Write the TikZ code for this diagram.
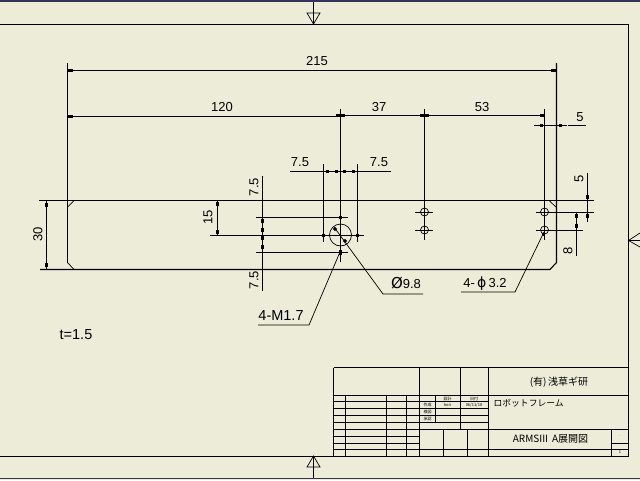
\documentclass[tikz,border=0pt]{standalone}
\usepackage{fontspec}
\setmainfont{Liberation Sans}
\newfontfamily\cjk{Noto Sans CJK JP}
\usepackage{tikz}
\definecolor{paper}{HTML}{ECECD9}
\definecolor{rim}{HTML}{34345A}
\tikzset{dim/.style={font=\fontsize{13}{13}\selectfont,inner sep=0pt},
         vdim/.style={dim,rotate=90},
         bigdim/.style={font=\fontsize{14.5}{14.5}\selectfont,inner sep=0pt},
         smalltxt/.style={font=\cjk\fontsize{4}{4}\selectfont,inner sep=0pt},
         titletxt/.style={font=\cjk\fontsize{10}{10}\selectfont,inner sep=0pt},
         tick/.style={fill=black,inner sep=0pt,minimum size=3pt},
         htick/.style={tick,minimum width=5pt,minimum height=3pt},
         vtick/.style={tick,minimum width=3pt,minimum height=4pt},
         thin line/.style={line width=0.7pt},
         every path/.style={line width=1.1pt}}
\begin{document}
\begin{tikzpicture}[x=1pt,y=-1pt]
\fill[paper] (0,0) rectangle (640,480);
\useasboundingbox (0,0) rectangle (640,480);
\draw[rim,line width=1.4pt] (0,1)--(640,1);
\draw[rim,line width=1.4pt] (0,478.5)--(640,478.5);
% frame
\draw (0,24.5)--(628.5,24.5)--(628.5,456.5)--(0,456.5);
\draw (313.5,2)--(313.5,24);
\draw[thin line] (307,13)--(320,13)--(313.5,24)--cycle;
\draw (313.5,478)--(313.5,456);
\draw[thin line] (307,467)--(320,467)--(313.5,456)--cycle;
\draw (628,240.5)--(640,240.5);
\draw[thin line] (640,233)--(628.5,240.5)--(640,247);
% plate
\draw (39,200.5)--(594,200.5);
\draw (40,269.5)--(550,269.5)--(556.5,262.5)--(556.5,63);
\draw (67.5,63)--(67.5,262.5);
\draw[thin line] (67.5,207)--(74,200.5);
\draw[thin line] (67.5,262.5)--(74,269.5);
\draw[thin line] (549,200.5)--(556.5,207.5);
% long dimensions
\draw (67.5,70.5)--(556.5,70.5);
\node[dim] (d215) at (317,61) {215};
\draw (67.5,116.5)--(340.5,116.5);
\node[dim] (d120) at (222,107) {120};
\draw (340.5,115.5)--(544.5,115.5);
\node[dim] (d37) at (379,107) {37};
\node[dim] (d53) at (482,107) {53};
\node[htick] at (70.5,70.5) {};
\node[htick] at (70.5,116.5) {};
\node[htick] at (553,70.5) {};
\foreach \x in {340.5,424.5} {\node[htick,minimum width=9pt] at (\x,115.5) {};}
\node[htick] at (542,115.5) {};
% extension lines
\draw (340.5,109)--(340.5,262);
\draw (424.5,109)--(424.5,240);
\draw (544.5,109)--(544.5,240);
% dimension 5 top right
\draw (534,125.5)--(567,125.5);
\draw[thin line] (568,125.5)--(586,125.5);
\node[dim] (d5a) at (580,117) {5};
\node[tick] at (541,125.5) {};
\node[tick] at (560,125.5) {};
% dimension 7.5 pair
\draw (323.5,164)--(323.5,242);
\draw (357.5,164)--(357.5,242);
\draw[thin line] (290,171.5)--(391,171.5);
\node[dim] (d75a) at (300,162) {7.5};
\node[dim] (d75b) at (379,162) {7.5};
\foreach \x in {327,336,344,353} {\node[tick] at (\x,171.5) {};}
% left dimensions
\draw (262.5,176)--(262.5,291);
\draw (256,217.5)--(348,217.5);
\draw (210,235.5)--(364,235.5);
\draw (256,252.5)--(348,252.5);
\node[vdim] (d75c) at (254,187) {7.5};
\node[vdim] (d75d) at (254,280) {7.5};
\foreach \y in {221,230,238,247} {\node[vtick] at (262.5,\y) {};}
\draw (217.5,200.5)--(217.5,235.5);
\node[vdim] (d15) at (208,217) {15};
\node[vtick] at (217.5,204) {};
\node[vtick] at (217.5,232) {};
\draw (46.5,200.5)--(46.5,269.5);
\node[vdim] (d30) at (38,234) {30};
\node[vtick] at (46.5,205) {};
\node[vtick] at (46.5,265) {};
% large hole
\draw[thin line] (340.5,235) circle (11);
\draw[thin line] (334,227)--(383,294)--(423,294);
\node[tick] at (340,217.5) {};
\node[tick] at (323.5,235.5) {};
\node[tick] at (357.5,235.5) {};
\node[tick,minimum height=5pt] at (340,252) {};
\node[tick,rotate=45] at (335,229) {};
\node[tick,rotate=45] at (345,241) {};
\node[dim] (dphi) at (406,283) {\fontspec{DejaVu Sans}\fontsize{15}{15}\selectfont Ø\fontspec{Liberation Sans}\fontsize{13}{13}\selectfont 9.8};
\draw[thin line] (340,252)--(309,325)--(258,325);
\node[bigdim] (dm17) at (281,316) {4-M1.7};
% small holes
\foreach \x in {424.5,544.5} \foreach \y in {212,230} {\draw[thin line] (\x,\y) circle (4);}
\draw (415,212.5)--(433,212.5);
\draw (415,230.5)--(433,230.5);
\draw (536,212.5)--(594,212.5);
\draw (536,230.5)--(583,230.5);
\draw[thin line] (544,232)--(515,292)--(461,292);
\node[tick] at (543,234) {};
\node[dim] (dphib) at (485,284) {4-\,\fontspec{DejaVu Sans}\fontsize{14}{14}\selectfont ϕ\fontspec{Liberation Sans}\fontsize{13}{13}\selectfont\,3.2};
% right dimensions
\draw (587.5,173)--(587.5,222);
\node[vdim] (d5b) at (579,179) {5};
\node[vtick] at (587.5,197) {};
\node[vtick] at (587.5,216) {};
\draw (576.5,213)--(576.5,256);
\node[vdim] (d8) at (568,251) {8};
\node[vtick] at (576.5,216) {};
\node[vtick] at (576.5,226) {};
\node[bigdim] (thick) at (76,335) {t=1.5};
% title block
\draw (333.5,367.5)--(628.5,367.5);
\draw (333.5,367.5)--(333.5,456.5);
\draw (333.5,395.5)--(628.5,395.5);
\draw (419.5,367.5)--(419.5,456.5);
\draw (460.5,367.5)--(460.5,429.5);
\draw (488.5,367.5)--(488.5,456.5);
\foreach \y in {401.5,408.5,415.5,422.5} {\draw (333.5,\y)--(488.5,\y);}
\draw (333.5,429.5)--(628.5,429.5);
\foreach \y in {436.5,443.5} {\draw (333.5,\y)--(419.5,\y);}
\draw (333.5,449.5)--(628.5,449.5);
\draw (611.5,443.5)--(628.5,443.5);
\foreach \x in {345.5,386.5,406.5} {\draw (\x,395.5)--(\x,456.5);}
\draw (435.5,395.5)--(435.5,422.5);
\foreach \x in {443.5,467.5} {\draw (\x,429.5)--(\x,456.5);}
\draw (611.5,429.5)--(611.5,456.5);
\node[titletxt] (shop) at (559,382) {(有)\,浅草ギ研};
\node[titletxt,font=\cjk\fontsize{8.8}{9}\selectfont,anchor=west] (part) at (493,403) {ロボットフレーム};
\node[titletxt] (sheet) at (550.5,439) {ARMSIII\, A展開図};
\node[smalltxt] (c1) at (447.5,398.5) {設計};
\node[smalltxt] (c2) at (474,398.5) {日付};
\node[smalltxt] (c3) at (427.5,405) {作成};
\node[smalltxt] (c4) at (447.5,405) {hori};
\node[smalltxt] (c5) at (474,405) {06/11/18};
\node[smalltxt] (c6) at (427.5,412) {検図};
\node[smalltxt] (c7) at (427.5,419) {承認};
\node[smalltxt] (c8) at (620,436) {.};
\node[smalltxt] (c9) at (620,452.5) {1};
\end{tikzpicture}
\end{document}
